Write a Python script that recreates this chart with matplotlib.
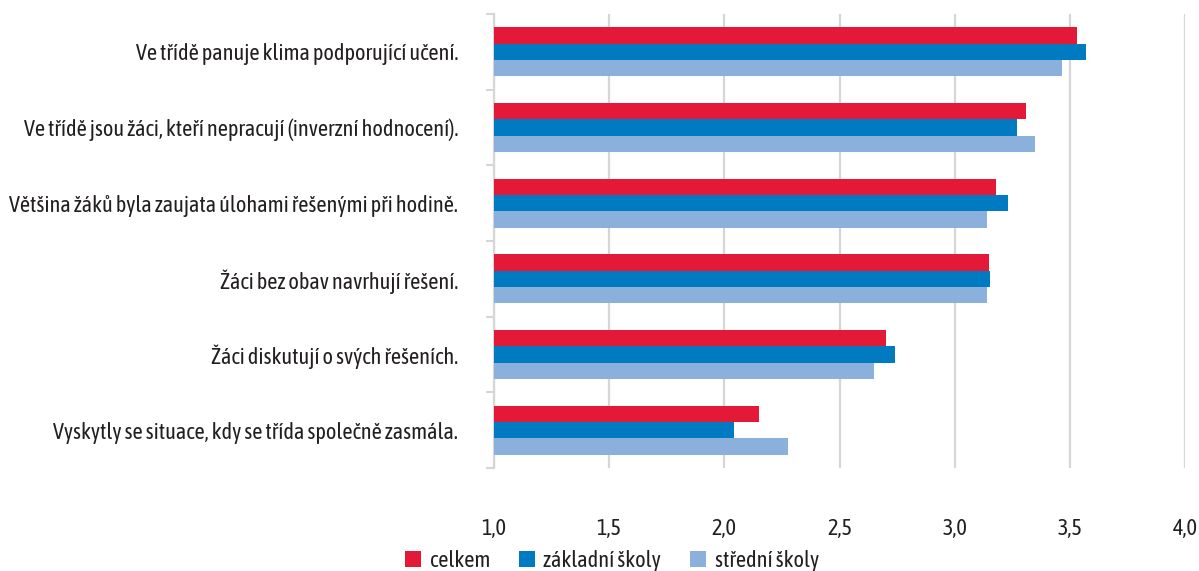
# Horizontal grouped bars - hodnocení výuky
import matplotlib.pyplot as plt
import numpy as np

plt.rcParams['font.family'] = ['Asap Condensed', 'DejaVu Sans']

# Data
categories = ['Ve třídě panuje klima podporující učení.',
              'Ve třídě jsou žáci, kteří nepracují (inverzní hodnocení).',
              'Většina žáků byla zaujata úlohami řešenými při hodině.',
              'Žáci bez obav navrhují řešení.',
              'Žáci diskutují o svých řešeních.',
              'Vyskytly se situace, kdy se třída společně zasmála.']
celkem = [3.53, 3.31, 3.18, 3.15, 2.70, 2.15]
zakladni = [3.57, 3.27, 3.23, 3.155, 2.74, 2.04]
stredni = [3.465, 3.35, 3.14, 3.14, 2.65, 2.275]
series_names = ['celkem', 'základní školy', 'střední školy']
xticks = [1.0, 1.5, 2.0, 2.5, 3.0, 3.5, 4.0]
xticklabels = ['1,0', '1,5', '2,0', '2,5', '3,0', '3,5', '4,0']

colors = ['#E31937', '#007BC2', '#8CB0DC']
text_col = '#231F20'
grid_col = '#D6D6D6'

fig = plt.figure(figsize=(11.99, 5.71), dpi=100)
ax = fig.add_axes([494/1199, 1-468/571, (1185-494)/1199, (468-14)/571])

y = np.arange(len(categories))
h = 0.215
bars = []
for i, vals in enumerate([celkem, zakladni, stredni]):
    b = ax.barh(y + (i-1)*h, np.array(vals) - 1.0, left=1.0, height=h,
                color=colors[i], zorder=3)
    bars.append(b)

ax.set_xlim(1.0, 4.0)
ax.set_ylim(5.5, -0.5)
ax.set_xticks(xticks)
ax.set_xticklabels(xticklabels, fontsize=16, color=text_col)
ax.tick_params(axis='x', length=0, pad=36)
ax.set_yticks(y)
ax.set_yticklabels(categories, fontsize=16, color=text_col)
ax.tick_params(axis='y', which='major', length=0, pad=26)
ax.set_yticks(np.arange(-0.5, 6, 1), minor=True)
ax.tick_params(axis='y', which='minor', length=6, width=1.5, color=grid_col)

ax.xaxis.grid(True, color=grid_col, linewidth=1.6, zorder=0)
for s in ['top', 'right', 'bottom']:
    ax.spines[s].set_visible(False)
ax.spines['left'].set_color(grid_col)
ax.spines['left'].set_linewidth(1.6)

fig.legend([b[0] for b in bars], series_names, loc='center',
           bbox_to_anchor=(612/1199, 1-561/571), ncol=3, frameon=False,
           fontsize=16, handlelength=0.7, handleheight=0.7,
           handletextpad=0.4, columnspacing=1.3, labelcolor=text_col)

plt.savefig('out.png', dpi=100)
